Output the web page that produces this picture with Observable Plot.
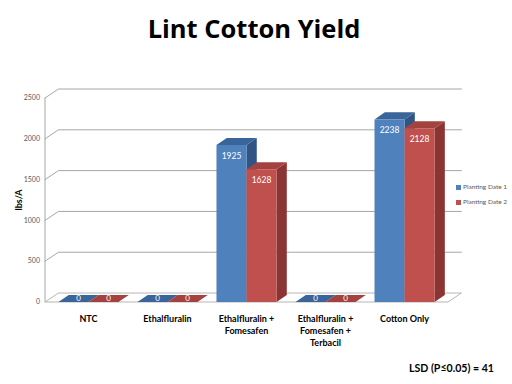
<!DOCTYPE html>
<html>
<head>
<meta charset="utf-8">
<script src="https://cdn.jsdelivr.net/npm/d3@7"></script>
<script src="https://cdn.jsdelivr.net/npm/@observablehq/plot@0.6"></script>
<style>
  html, body { margin: 0; padding: 0; background: #fff; }
  body { width: 512px; height: 384px; position: relative; overflow: hidden; font-family: Lato, "Open Sans", sans-serif; }
  #title { position: absolute; left: 0; top: 13px; width: 508px; text-align: center; font-family: "Open Sans", Lato, sans-serif; font-size: 25.5px; font-weight: bold; line-height: 30px; color: #000; }
  #chart { position: absolute; left: 0; top: 75px; }
  #legend { position: absolute; left: 456px; top: 182px; font-size: 6.5px; color: #595959; }
  #legend div { height: 15px; line-height: 10px; white-space: nowrap; }
  #legend span.sw { display: inline-block; width: 5px; height: 5px; margin-right: 2px; vertical-align: -0.5px; }
  #lsd { position: absolute; left: 409px; top: 362px; font-size: 10.6px; font-weight: bold; color: #000; white-space: nowrap; }
</style>
</head>
<body>
<div id="title">Lint Cotton Yield</div>
<div id="chart"></div>
<div id="legend"></div>
<div id="lsd">LSD (P≤0.05) = 41</div>
<script>
// ---- data ----
const categories = ["NTC", "Ethalfluralin", "Ethalfluralin +\nFomesafen", "Ethalfluralin +\nFomesafen +\nTerbacil", "Cotton Only"];
const seriesNames = ["Planting Date 1", "Planting Date 2"];
const date1 = [0, 0, 1925, 0, 2238];
const date2 = [0, 0, 1628, 0, 2128];
const yTicks = [0, 500, 1000, 1500, 2000, 2500];
const frontColors = ["#4F81BD", "#C0504D"];
const topColors = ["#3A659A", "#A3423F"];
const sideColors = ["#2E5584", "#8A3533"];

// ---- geometry (in data units) ----
const xMin = -0.55, xMax = 4.55;
const wallDx = 0.17, wallDy = 110;
const barDx = 0.13, barDy = 86;
const barW = 0.38;

const series = [date1, date2];
const polys = [];
const labels = [];
const zeroLabels = [];
categories.forEach((c, i) => {
  series.forEach((vals, s) => {
    const v = vals[i];
    const x0 = i - barW + s * barW, x1 = x0 + barW;
    const id = `${i}-${s}`;
    const add = (part, fill, pts) => pts.forEach(([x, y]) => polys.push({id: id + part, x, y, fill}));
    add("side", sideColors[s], [[x1, 0], [x1 + barDx, barDy], [x1 + barDx, v + barDy], [x1, v]]);
    add("top", topColors[s], [[x0, v], [x1, v], [x1 + barDx, v + barDy], [x0 + barDx, v + barDy]]);
    if (v > 0) add("front", frontColors[s], [[x0, 0], [x1, 0], [x1, v], [x0, v]]);
    if (v > 0) labels.push({x: (x0 + x1) / 2, y: v, text: String(v)});
    else zeroLabels.push({x: (x0 + x1) / 2 + barDx / 2, y: barDy / 2, text: "0"});
  });
});

const grid = [];
yTicks.filter(t => t > 0).forEach(t => {
  grid.push({t, x: xMin, y: t}, {t, x: xMin + wallDx, y: t + wallDy}, {t, x: xMax + wallDx, y: t + wallDy});
});
const floor = [[xMin, 0], [xMax, 0], [xMax + wallDx, wallDy], [xMin + wallDx, wallDy], [xMin, 0]].map(([x, y]) => ({x, y}));

const plot = Plot.plot({
  width: 512,
  height: 309,
  marginLeft: 44.5,
  marginRight: 64.5,
  marginTop: 22.5,
  marginBottom: 82.5,
  style: {fontFamily: "Lato, 'Open Sans', sans-serif", background: "transparent"},
  x: {domain: [xMin, xMax], axis: null},
  y: {domain: [0, 2500], axis: null},
  color: {type: "identity"},
  marks: [
    Plot.line(grid, {x: "x", y: "y", z: "t", stroke: "#A6A6A6", strokeWidth: 1}),
    Plot.ruleX([xMin], {y1: 0, y2: 2500, stroke: "#A6A6A6"}),
    Plot.line(floor, {x: "x", y: "y", fill: "#FFFFFF", stroke: "#B5B5B5", strokeWidth: 1}),
    Plot.line(polys, {x: "x", y: "y", z: "id", fill: "fill", stroke: "none"}),
    Plot.text(labels, {x: "x", y: "y", text: "text", dy: 11, fill: "#FFFFFF", fontSize: 8.5}),
    Plot.text(zeroLabels, {x: "x", y: "y", text: "text", fill: "#FFFFFF", fontSize: 8}),
    Plot.axisY({ticks: yTicks, tickFormat: d => String(d), anchor: "left", tickSize: 0, tickPadding: 5, fontSize: 7, fill: "#595959", label: null}),
    Plot.axisX({ticks: [0, 1, 2, 3, 4], tickFormat: i => categories[i], anchor: "bottom", tickSize: 0, tickPadding: 12, fontSize: 9, fontWeight: "bold", fill: "#000", lineHeight: 1.3, label: null}),
    Plot.text(["lbs/A"], {frameAnchor: "left", rotate: -90, dx: -26, textAnchor: "middle", fontSize: 9, fontWeight: "bold", fill: "#000"})
  ]
});
document.getElementById("chart").appendChild(plot);

const legend = document.getElementById("legend");
seriesNames.forEach((n, s) => {
  const row = document.createElement("div");
  row.innerHTML = `<span class="sw" style="background:${frontColors[s]}"></span>${n}`;
  legend.appendChild(row);
});
</script>
</body>
</html>
